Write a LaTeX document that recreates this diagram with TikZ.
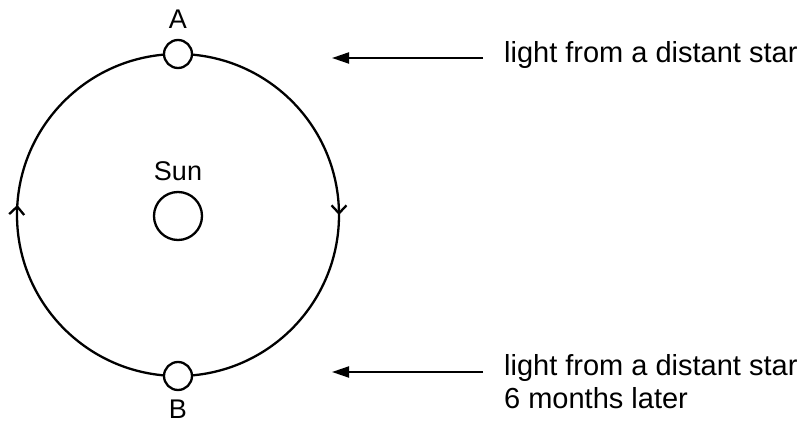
\documentclass[tikz,border=0pt]{standalone}
\usepackage{fontspec}
\setmainfont{Liberation Sans}
\usetikzlibrary{arrows.meta,decorations.markings}
\begin{document}
\begin{tikzpicture}[x=1pt,y=1pt,line width=2.3pt,
  body/.style={circle,draw,fill=white,inner sep=0pt,minimum size=#1},
  lbl/.style={inner sep=0pt,font=\fontsize{27}{30}\selectfont},
  txt/.style={inner sep=0pt,anchor=base west,align=left,font=\fontsize{29}{32}\selectfont},
  lightarrow/.style={-{Triangle[length=17pt,width=11pt]},line width=2pt},
  orbitdir/.style={postaction={decorate},decoration={markings,
     mark=at position 0.25 with {\arrow{Straight Barb[length=8pt,width=15pt,line width=2.3pt]}},
     mark=at position 0.76 with {\arrow{Straight Barb[length=8pt,width=15pt,line width=2.3pt]}}}}]
\useasboundingbox (0,0) rectangle (803,423);
\coordinate (O) at (178,208);
\draw[orbitdir] (178,369) arc[start angle=90,end angle=-270,radius=161];
\node[body=28pt] (A) at (178,369) {};
\node[body=28pt] (B) at (178,47) {};
\node[body=48pt] (sun) at (178,207) {};
\node[lbl] (sunlbl) at (178,252) {Sun};
\node[lbl] (Albl) at (178,404) {A};
\node[lbl] (Blbl) at (178,14) {B};
\coordinate (s1) at (483,365);
\coordinate (e1) at (332,365);
\coordinate (s2) at (483,51);
\coordinate (e2) at (332,51);
\draw[lightarrow] (s1) -- (e1);
\draw[lightarrow] (s2) -- (e2);
\node[txt] (t1) at (503,360) {light from a distant star};
\node[txt] (t2) at (503,15) {light from a distant star\\6 months later};
\end{tikzpicture}
\end{document}
